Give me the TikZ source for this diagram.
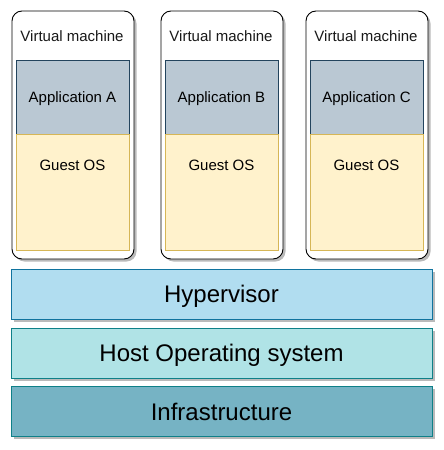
\documentclass[tikz,border=0pt]{standalone}
\usepackage{fontspec}
\setmainfont{Liberation Sans}
\usepackage{tikz}
\usetikzlibrary{positioning,shadows}
\definecolor{appfill}{HTML}{BAC8D3}
\definecolor{appline}{HTML}{23445D}
\definecolor{osfill}{HTML}{FFF2CC}
\definecolor{osline}{HTML}{D6B656}
\definecolor{hypfill}{HTML}{B1DDF0}
\definecolor{hypline}{HTML}{10739E}
\definecolor{hostfill}{HTML}{B0E3E6}
\definecolor{hostline}{HTML}{0E8088}
\definecolor{infrafill}{HTML}{76B3C4}
\tikzstyle{vm}=[draw=black, fill=white, rounded corners=10pt, line width=0.9pt,
minimum width=122pt, minimum height=248pt,
drop shadow={shadow xshift=2.5pt, shadow yshift=-2.5pt, fill=black!45, opacity=0.6}]
\tikzstyle{vmlabel}=[font=\fontsize{15}{18}\selectfont, text=black!90]
\tikzstyle{app}=[draw=appline, fill=appfill, line width=0.7pt,
minimum width=113pt, minimum height=74pt, font=\fontsize{15}{18}\selectfont,
text height=11pt, text depth=-1pt]
\tikzstyle{guest}=[draw=osline, fill=osfill, line width=0.7pt,
minimum width=113pt, minimum height=116pt, font=\fontsize{15}{18}\selectfont,
text height=11pt, text depth=55pt, anchor=north, inner sep=0pt]
\tikzstyle{layer}=[line width=0.9pt, minimum width=421pt, minimum height=50pt,
font=\fontsize{24}{28}\selectfont, text height=17pt, text depth=0pt,
drop shadow={shadow xshift=2.5pt, shadow yshift=-2.5pt, fill=black!45, opacity=0.6}]

\begin{document}
\begin{tikzpicture}[x=1pt,y=-1pt]
\useasboundingbox (0,0) rectangle (444,450);
% virtual machines
\node[vm] (vm1) at (73,135) {};
\node[vm] (vm2) at (222,135) {};
\node[vm] (vm3) at (367,135) {};
\node[vmlabel] (lab1) at (72,36) {Virtual machine};
\node[vmlabel] (lab2) at (221,36) {Virtual machine};
\node[vmlabel] (lab3) at (366,36) {Virtual machine};
\node[app] (appA) at (72.5,97) {Application A};
\node[app] (appB) at (221.5,97) {Application B};
\node[app] (appC) at (366.5,97) {Application C};
\node[guest] (os1) at (72.5,134) {Guest OS};
\node[guest] (os2) at (221.5,134) {Guest OS};
\node[guest] (os3) at (366.5,134) {Guest OS};
% layers
\node[layer, draw=hypline, fill=hypfill] (hyp) at (221.5,294) {Hypervisor};
\node[layer, draw=hostline, fill=hostfill] (host) at (221.5,353) {Host Operating system};
\node[layer, draw=hostline, fill=infrafill] (infra) at (221.5,411.5) {Infrastructure};
\end{tikzpicture}
\end{document}
